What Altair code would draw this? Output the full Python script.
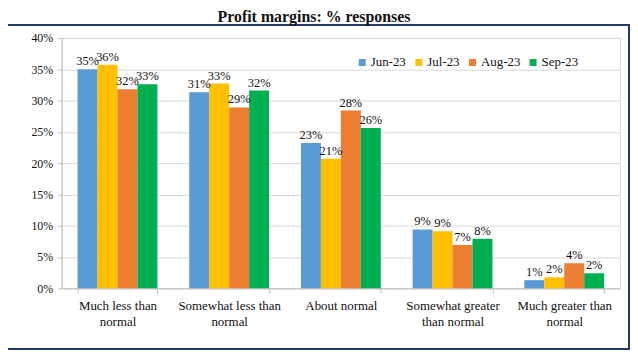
import altair as alt
import pandas as pd

categories = ["Much less than normal", "Somewhat less than normal", "About normal",
              "Somewhat greater than normal", "Much greater than normal"]
category_lines = [["Much less than", "normal"], ["Somewhat less than", "normal"], ["About normal"],
                  ["Somewhat greater", "than normal"], ["Much greater than", "normal"]]
series = ["Jun-23", "Jul-23", "Aug-23", "Sep-23"]
colors = ["#5B9BD5", "#FFC000", "#ED7D31", "#00B050"]
values = {
    "Jun-23": [0.350, 0.313, 0.232, 0.094, 0.013],
    "Jul-23": [0.357, 0.327, 0.207, 0.091, 0.0175],
    "Aug-23": [0.318, 0.289, 0.284, 0.069, 0.040],
    "Sep-23": [0.326, 0.316, 0.256, 0.079, 0.024],
}
y_ticks = [0, 0.05, 0.10, 0.15, 0.20, 0.25, 0.30, 0.35, 0.40]

rows = []
for s in series:
    for c, v in zip(categories, values[s]):
        rows.append({"category": c, "series": s, "value": v})
df = pd.DataFrame(rows)

label_map = "{" + ", ".join(
    "'%s': [%s]" % (c, ", ".join("'%s'" % l for l in lines))
    for c, lines in zip(categories, category_lines)) + "}"

FONT = "Liberation Serif"

x_enc = alt.X("category:N", sort=categories, title=None,
              scale=alt.Scale(paddingInner=0.285, paddingOuter=0.1425),
              axis=alt.Axis(labelExpr=label_map + "[datum.label]", labelAngle=0,
                            tickBand="extent", tickSize=5, tickColor="#bfbfbf",
                            domainColor="#bfbfbf", labelFont=FONT, labelFontSize=13,
                            labelColor="#111", labelPadding=6, labelLineHeight=16,
                            labelLimit=200))
xoff = alt.XOffset("series:N", sort=series)
y_enc = alt.Y("value:Q", title=None,
              scale=alt.Scale(domain=[0, 0.4], nice=False),
              axis=alt.Axis(values=y_ticks, tickCount=9, format=".0%", gridColor="#d9d9d9",
                            domainColor="#bfbfbf", tickColor="#bfbfbf", tickSize=4,
                            labelFont=FONT, labelFontSize=12, labelColor="#111",
                            labelPadding=5, labelOverlap=False))

base = alt.Chart(df)

bars = base.mark_bar().encode(
    x=x_enc, xOffset=xoff, y=y_enc,
    color=alt.Color("series:N", sort=series,
                    scale=alt.Scale(domain=series, range=colors),
                    legend=alt.Legend(title=None, orient="none", legendX=296, legendY=18,
                                      direction="horizontal", symbolType="square",
                                      symbolSize=49, symbolStrokeWidth=0,
                                      labelFont=FONT, labelFontSize=13, labelColor="#111",
                                      columnPadding=6, labelOffset=2)),
)

texts = base.mark_text(dy=-8, font=FONT, fontSize=12.5, color="#111").encode(
    x=x_enc,
    xOffset=xoff,
    y=y_enc,
    text=alt.Text("value:Q", format=".0%"),
)

border = alt.Chart(pd.DataFrame({"a": [0]})).mark_rect(
    fill=None, stroke="#243a6b", strokeWidth=2
).encode(x=alt.value(-58), x2=alt.value(571), y=alt.value(-13), y2=alt.value(313))

chart = alt.layer(bars, texts, border).properties(
    width=562, height=252,
    title=alt.TitleParams("Profit margins: % responses", font=FONT, fontSize=16,
                          fontWeight="bold", color="#111", anchor="middle", dx=-27,
                          offset=8, dy=9),
    autosize=alt.AutoSizeParams(type="none"),
    padding={"left": 54, "top": 29, "right": 10, "bottom": 63},
).configure_view(stroke=None).configure(background="white")

chart.save("out.html", embed_options={"renderer": "svg", "actions": False})
